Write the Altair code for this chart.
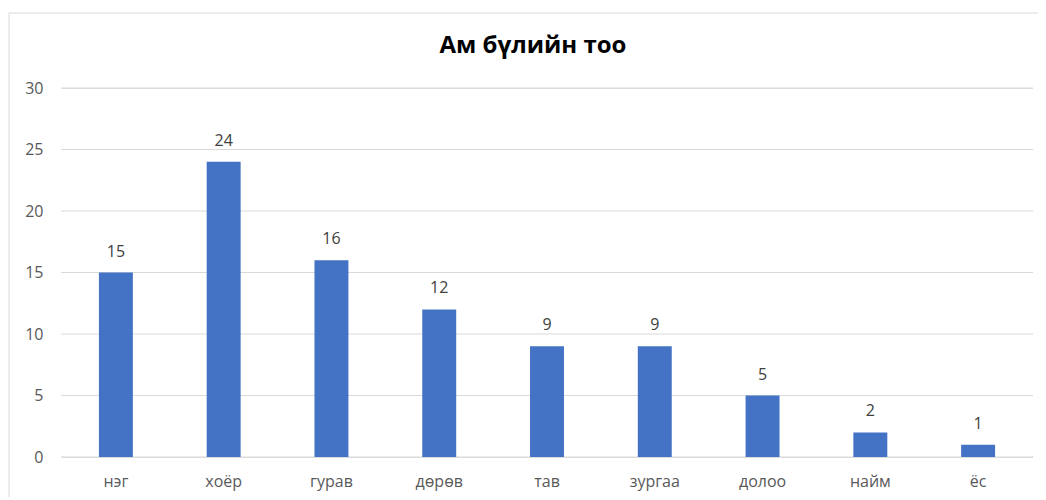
import altair as alt
import pandas as pd

categories = ["нэг", "хоёр", "гурав", "дөрөв", "тав", "зургаа", "долоо", "найм", "ёс"]
values = [15, 24, 16, 12, 9, 9, 5, 2, 1]
y_ticks = [0, 5, 10, 15, 20, 25, 30]
title_text = "Ам бүлийн тоо"

df = pd.DataFrame({"cat": categories, "val": values})
grid_df = pd.DataFrame({"val": y_ticks})

FONT = "Open Sans"

x_enc = alt.X(
    "cat:N",
    sort=categories,
    scale=alt.Scale(paddingInner=0.685, paddingOuter=0.3425),
    axis=alt.Axis(
        title=None, labelAngle=0, domain=False, ticks=False,
        labelPadding=16, labelFontSize=16, labelColor="#595959", labelFont=FONT,
        grid=False,
    ),
)
y_scale = alt.Scale(domain=[0, 30], nice=False)
y_axis = alt.Axis(
    title=None, values=y_ticks, domain=False, ticks=False, labelPadding=19,
    labelFontSize=16, labelColor="#595959", labelFont=FONT, grid=False,
)
y_enc = alt.Y("val:Q", scale=y_scale, axis=y_axis)

one = pd.DataFrame({"t": [title_text]})

gridlines = alt.Chart(grid_df).mark_rule(stroke="#d9d9d9", strokeWidth=1).encode(
    y=alt.Y("val:Q", scale=y_scale, axis=y_axis), x=alt.value(-1), x2=alt.value(971)
)

mask_l = alt.Chart(one).mark_rule(stroke="white", strokeWidth=3, clip=False).encode(
    x=alt.value(0), y=alt.value(1), y2=alt.value(368)
)
mask_r = alt.Chart(one).mark_rule(stroke="white", strokeWidth=3, clip=False).encode(
    x=alt.value(970), y=alt.value(1), y2=alt.value(368)
)

frame = alt.Chart(one).mark_rule(
    stroke="#d9d9d9", strokeWidth=1, clip=False
).encode(
    x=alt.value(-53), x2=alt.value(1200), y=alt.value(-75)
)
frame_left = alt.Chart(one).mark_rule(
    stroke="#d9d9d9", strokeWidth=1, clip=False
).encode(
    x=alt.value(-53), y=alt.value(-75), y2=alt.value(600)
)

title_mark = alt.Chart(one).mark_text(
    fontSize=24, fontWeight="bold", color="#000000", font=FONT,
    align="center", baseline="middle", clip=False,
).encode(x=alt.value(471), y=alt.value(-42), text="t:N")

base = alt.Chart(df).encode(x=x_enc, y=y_enc)
bars = base.mark_bar(color="#4472C4")
labels = base.mark_text(
    baseline="middle", dy=-21, fontSize=16, color="#404040", font=FONT
).encode(text="val:Q")

chart = alt.layer(
    mask_l, mask_r, gridlines, bars, labels, title_mark, frame, frame_left
).properties(
    width=970,
    height=369,
    autosize=alt.AutoSizeParams(type="none"),
    padding={"left": 54, "top": 80, "right": 6, "bottom": 40},
).configure_view(stroke="transparent").configure_axis(
    domain=False, ticks=False
).configure(background="white")

chart.save("out.html", embed_options={"renderer": "svg", "actions": False})
